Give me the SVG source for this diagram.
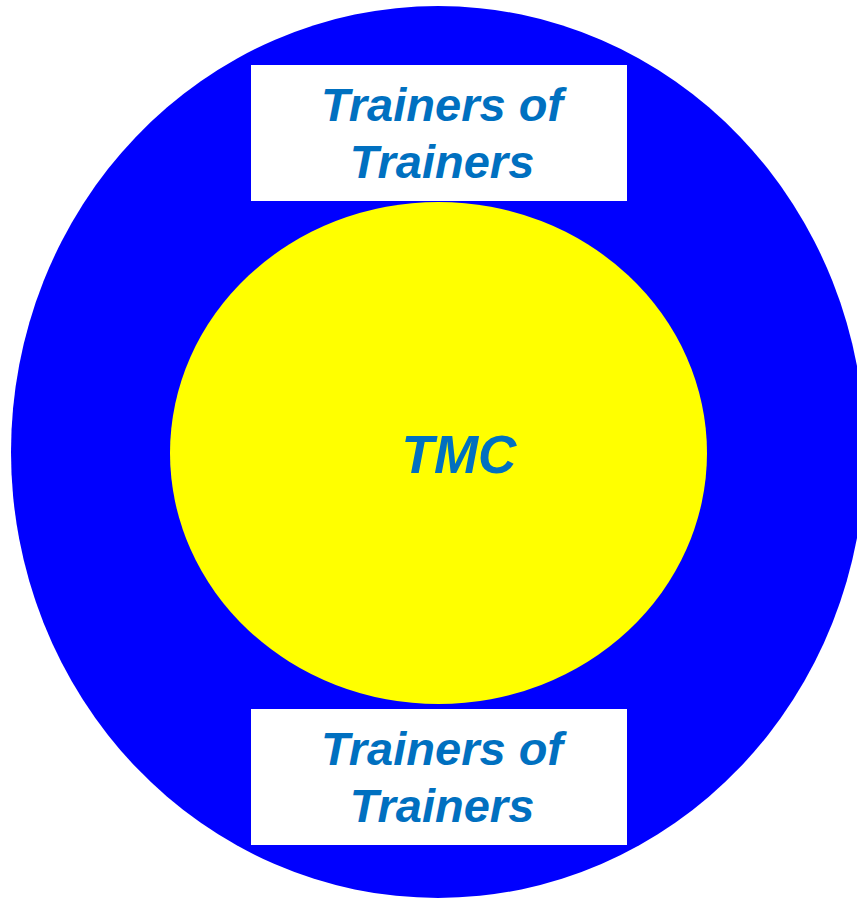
<svg xmlns="http://www.w3.org/2000/svg" width="857" height="898" viewBox="0 0 857 898">
<style>
.lbl{font-family:"Liberation Sans",Arial,sans-serif;font-weight:bold;font-style:italic;font-size:47px;fill:#0070C0;text-anchor:middle}
.big{font-size:53px}
.box{fill:#ffffff}
</style>
<rect width="857" height="898" fill="#ffffff"/>
<g id="outer"><ellipse cx="438" cy="452" rx="427" ry="446" fill="#0000ff"/></g>
<g id="tmc">
<ellipse cx="438.5" cy="453" rx="268.5" ry="251" fill="#ffff00"/>
<text class="lbl big" x="459" y="473">TMC</text>
</g>
<g id="tot-top">
<rect class="box" x="251" y="65" width="376" height="136"/>
<text class="lbl" x="442" y="121">Trainers of</text>
<text class="lbl" x="442" y="178">Trainers</text>
</g>
<g id="tot-bottom">
<rect class="box" x="251" y="709" width="376" height="136"/>
<text class="lbl" x="442" y="765">Trainers of</text>
<text class="lbl" x="442" y="822">Trainers</text>
</g>
<g id="connectors"/>
</svg>
